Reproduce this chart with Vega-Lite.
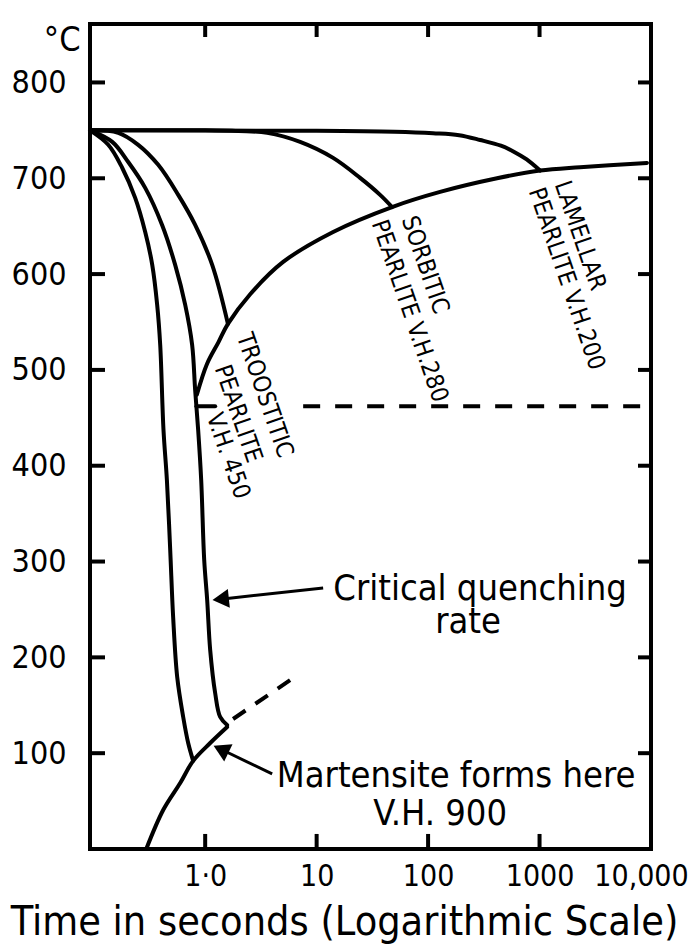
{
  "$schema": "https://vega.github.io/schema/vega-lite/v6.json",
  "width": 561,
  "height": 825,
  "autosize": {"type": "none"},
  "padding": {"left": 90, "top": 24, "right": 40, "bottom": 95},
  "background": "white",
  "config": {
    "font": "Liberation Sans Narrow, DejaVu Sans Condensed, DejaVu Sans",
    "view": {"stroke": "black", "strokeWidth": 4}
  },
  "datasets": {
    "curves": [
      {"c": "A", "i": 0, "t": 0.0926, "T": 750},
      {"c": "A", "i": 1, "t": 0.135, "T": 735},
      {"c": "A", "i": 2, "t": 0.18, "T": 711},
      {"c": "A", "i": 3, "t": 0.2355, "T": 679.5},
      {"c": "A", "i": 4, "t": 0.2897, "T": 644},
      {"c": "A", "i": 5, "t": 0.335, "T": 609.6},
      {"c": "A", "i": 6, "t": 0.371, "T": 567.8},
      {"c": "A", "i": 7, "t": 0.395, "T": 526},
      {"c": "A", "i": 8, "t": 0.4226, "T": 437.4},
      {"c": "A", "i": 9, "t": 0.4535, "T": 385},
      {"c": "A", "i": 10, "t": 0.4856, "T": 312},
      {"c": "A", "i": 11, "t": 0.516, "T": 242},
      {"c": "A", "i": 12, "t": 0.561, "T": 179.5},
      {"c": "A", "i": 13, "t": 0.635, "T": 137.8},
      {"c": "A", "i": 14, "t": 0.704, "T": 110.6},
      {"c": "A", "i": 15, "t": 0.78, "T": 92},
      {"c": "B", "i": 0, "t": 0.0926, "T": 750},
      {"c": "B", "i": 1, "t": 0.1466, "T": 738},
      {"c": "B", "i": 2, "t": 0.204, "T": 717},
      {"c": "B", "i": 3, "t": 0.2897, "T": 690},
      {"c": "B", "i": 4, "t": 0.4115, "T": 651},
      {"c": "B", "i": 5, "t": 0.538, "T": 609.6},
      {"c": "B", "i": 6, "t": 0.662, "T": 567.8},
      {"c": "B", "i": 7, "t": 0.764, "T": 526},
      {"c": "B", "i": 8, "t": 0.813, "T": 479},
      {"c": "B", "i": 9, "t": 0.865, "T": 437.4},
      {"c": "B", "i": 10, "t": 0.921, "T": 385},
      {"c": "B", "i": 11, "t": 0.98, "T": 301.7},
      {"c": "B", "i": 12, "t": 1.042, "T": 260},
      {"c": "B", "i": 13, "t": 1.109, "T": 207.7},
      {"c": "B", "i": 14, "t": 1.229, "T": 162.8},
      {"c": "B", "i": 15, "t": 1.363, "T": 137.8},
      {"c": "B", "i": 16, "t": 1.574, "T": 129.4},
      {"c": "C", "i": 0, "t": 0.0926, "T": 750},
      {"c": "C", "i": 1, "t": 0.166, "T": 747.4},
      {"c": "C", "i": 2, "t": 0.2507, "T": 734.9},
      {"c": "C", "i": 3, "t": 0.379, "T": 714},
      {"c": "C", "i": 4, "t": 0.573, "T": 682.7},
      {"c": "C", "i": 5, "t": 0.813, "T": 651.4},
      {"c": "C", "i": 6, "t": 1.156, "T": 609.6},
      {"c": "C", "i": 7, "t": 1.6, "T": 548},
      {"c": "D", "i": 0, "t": 0.0926, "T": 750},
      {"c": "D", "i": 1, "t": 1.0, "T": 750},
      {"c": "D", "i": 2, "t": 2.0, "T": 749.2},
      {"c": "D", "i": 3, "t": 3.6, "T": 747.4},
      {"c": "D", "i": 4, "t": 7.11, "T": 738},
      {"c": "D", "i": 5, "t": 14.06, "T": 721.3},
      {"c": "D", "i": 6, "t": 24.55, "T": 700.4},
      {"c": "D", "i": 7, "t": 37.1, "T": 682.7},
      {"c": "D", "i": 8, "t": 47.5, "T": 670},
      {"c": "E", "i": 0, "t": 0.0926, "T": 750},
      {"c": "E", "i": 1, "t": 10, "T": 749.5},
      {"c": "E", "i": 2, "t": 50, "T": 748.5},
      {"c": "E", "i": 3, "t": 111, "T": 747},
      {"c": "E", "i": 4, "t": 190, "T": 745},
      {"c": "E", "i": 5, "t": 293, "T": 740},
      {"c": "E", "i": 6, "t": 450, "T": 734},
      {"c": "E", "i": 7, "t": 582, "T": 728},
      {"c": "E", "i": 8, "t": 767, "T": 719.6},
      {"c": "E", "i": 9, "t": 1010, "T": 708},
      {"c": "F", "i": 0, "t": 0.842, "T": 474},
      {"c": "F", "i": 1, "t": 1.036, "T": 506},
      {"c": "F", "i": 2, "t": 1.317, "T": 529},
      {"c": "F", "i": 3, "t": 1.6, "T": 548},
      {"c": "F", "i": 4, "t": 2.533, "T": 579},
      {"c": "F", "i": 5, "t": 5.008, "T": 612.7},
      {"c": "F", "i": 6, "t": 14.06, "T": 644},
      {"c": "F", "i": 7, "t": 47.5, "T": 670},
      {"c": "F", "i": 8, "t": 128.1, "T": 685.8},
      {"c": "F", "i": 9, "t": 415.6, "T": 700},
      {"c": "F", "i": 10, "t": 1010, "T": 708},
      {"c": "F", "i": 11, "t": 2308, "T": 711.5},
      {"c": "F", "i": 12, "t": 9200, "T": 716},
      {"c": "G", "i": 0, "t": 0.296, "T": 0},
      {"c": "G", "i": 1, "t": 0.42, "T": 40.7},
      {"c": "G", "i": 2, "t": 0.597, "T": 68.9},
      {"c": "G", "i": 3, "t": 0.78, "T": 92},
      {"c": "G", "i": 4, "t": 1.109, "T": 110.6},
      {"c": "G", "i": 5, "t": 1.574, "T": 127.3},
      {"c": "J", "i": 0, "t": 0.834, "T": 462},
      {"c": "J", "i": 1, "t": 1.23, "T": 462}
    ],
    "msdash": [
      {"c": "H", "i": 0, "t": 1.78, "T": 135.7},
      {"c": "H", "i": 1, "t": 6.55, "T": 180.6}
    ],
    "hdash": [
      {"c": "I", "i": 0, "t": 7.57, "T": 462},
      {"c": "I", "i": 1, "t": 10000, "T": 462}
    ],
    "arrows": [
      {"c": "crit", "i": 0, "t": 11.44, "T": 272.4},
      {"c": "crit", "i": 1, "t": 1.377, "T": 260.7},
      {"c": "mart", "i": 0, "t": 3.99, "T": 78.3},
      {"c": "mart", "i": 1, "t": 1.386, "T": 104.1}
    ],
    "heads": [
      {"c": "crit", "t": 1.377, "T": 260.7},
      {"c": "mart", "t": 1.386, "T": 104.1}
    ],
    "notes": [
      {"label": "Critical quenching", "t": 292.7, "T": 260},
      {"label": "rate", "t": 228.4, "T": 225.5},
      {"label": "Martensite forms here", "t": 178.3, "T": 64.7},
      {"label": "V.H. 900", "t": 128.2, "T": 25}
    ],
    "phases": [
      {"label": "TROOSTITIC", "t": 2.192, "T": 537.6},
      {"label": "PEARLITE", "t": 1.392, "T": 504.2},
      {"label": "V.H. 450", "t": 1.18, "T": 454.1},
      {"label": "SORBITIC", "t": 66.2, "T": 659.7},
      {"label": "PEARLITE V.H.280", "t": 35.6, "T": 655.5},
      {"label": "LAMELLAR", "t": 1559, "T": 696.2},
      {"label": "PEARLITE V.H.200", "t": 911, "T": 689}
    ],
    "frameticks": [
      {"k": "L100", "i": 0, "t": 0.0926, "T": 100}, {"k": "L100", "i": 1, "t": 0.1262, "T": 100},
      {"k": "L200", "i": 0, "t": 0.0926, "T": 200}, {"k": "L200", "i": 1, "t": 0.1262, "T": 200},
      {"k": "L300", "i": 0, "t": 0.0926, "T": 300}, {"k": "L300", "i": 1, "t": 0.1262, "T": 300},
      {"k": "L400", "i": 0, "t": 0.0926, "T": 400}, {"k": "L400", "i": 1, "t": 0.1262, "T": 400},
      {"k": "L500", "i": 0, "t": 0.0926, "T": 500}, {"k": "L500", "i": 1, "t": 0.1262, "T": 500},
      {"k": "L600", "i": 0, "t": 0.0926, "T": 600}, {"k": "L600", "i": 1, "t": 0.1262, "T": 600},
      {"k": "L700", "i": 0, "t": 0.0926, "T": 700}, {"k": "L700", "i": 1, "t": 0.1262, "T": 700},
      {"k": "L800", "i": 0, "t": 0.0926, "T": 800}, {"k": "L800", "i": 1, "t": 0.1262, "T": 800},
      {"k": "R100", "i": 0, "t": 7645, "T": 100}, {"k": "R100", "i": 1, "t": 10000, "T": 100},
      {"k": "R200", "i": 0, "t": 7645, "T": 200}, {"k": "R200", "i": 1, "t": 10000, "T": 200},
      {"k": "R300", "i": 0, "t": 7645, "T": 300}, {"k": "R300", "i": 1, "t": 10000, "T": 300},
      {"k": "R400", "i": 0, "t": 7645, "T": 400}, {"k": "R400", "i": 1, "t": 10000, "T": 400},
      {"k": "R500", "i": 0, "t": 7645, "T": 500}, {"k": "R500", "i": 1, "t": 10000, "T": 500},
      {"k": "R600", "i": 0, "t": 7645, "T": 600}, {"k": "R600", "i": 1, "t": 10000, "T": 600},
      {"k": "R700", "i": 0, "t": 7645, "T": 700}, {"k": "R700", "i": 1, "t": 10000, "T": 700},
      {"k": "R800", "i": 0, "t": 7645, "T": 800}, {"k": "R800", "i": 1, "t": 10000, "T": 800},
      {"k": "B1", "i": 0, "t": 1, "T": 0}, {"k": "B1", "i": 1, "t": 1, "T": 15.7},
      {"k": "B10", "i": 0, "t": 10, "T": 0}, {"k": "B10", "i": 1, "t": 10, "T": 15.7},
      {"k": "B100", "i": 0, "t": 100, "T": 0}, {"k": "B100", "i": 1, "t": 100, "T": 15.7},
      {"k": "B1000", "i": 0, "t": 1000, "T": 0}, {"k": "B1000", "i": 1, "t": 1000, "T": 15.7},
      {"k": "T1", "i": 0, "t": 1, "T": 861}, {"k": "T1", "i": 1, "t": 1, "T": 847.4},
      {"k": "T10", "i": 0, "t": 10, "T": 861}, {"k": "T10", "i": 1, "t": 10, "T": 847.4},
      {"k": "T100", "i": 0, "t": 100, "T": 861}, {"k": "T100", "i": 1, "t": 100, "T": 847.4},
      {"k": "T1000", "i": 0, "t": 1000, "T": 861}, {"k": "T1000", "i": 1, "t": 1000, "T": 847.4}
    ]
  },
  "encoding": {
    "x": {"field": "t", "type": "quantitative", "scale": {"type": "log", "domain": [0.0926, 10000], "nice": false}, "axis": null},
    "y": {"field": "T", "type": "quantitative", "scale": {"domain": [0, 861], "nice": false, "zero": false}, "axis": null}
  },
  "resolve": {"axis": {"x": "independent", "y": "independent"}},
  "layer": [
    {
      "data": {"name": "curves"},
      "mark": {"type": "line", "color": "black", "strokeWidth": 4, "interpolate": "catmull-rom", "strokeCap": "round", "strokeJoin": "round"},
      "encoding": {
        "x": {
          "field": "t", "type": "quantitative",
          "scale": {"type": "log", "domain": [0.0926, 10000], "nice": false},
          "axis": {
            "orient": "bottom", "values": [1, 10, 100, 1000, 10000], "ticks": false,
            "labelExpr": "datum.value == 1 ? '1·0' : datum.value == 10000 ? '10,000' : format(datum.value, 'd')",
            "domain": false, "grid": false,
            "labelFontSize": 30, "labelColor": "black", "labelPadding": 12, "labelOverlap": false, "labelFlush": false, "labelBound": false,
            "labelOffset": {"condition": {"test": "datum.value == 10000", "value": -10}, "value": 0},
            "title": "Time in seconds (Logarithmic Scale)", "titleFontSize": 41, "titleFontWeight": "normal", "titleColor": "black",
            "titleX": 254, "titleY": 85, "titleAlign": "center", "titleBaseline": "alphabetic", "titleAnchor": "start"
          }
        },
        "y": {
          "field": "T", "type": "quantitative",
          "scale": {"domain": [0, 861], "nice": false, "zero": false},
          "axis": {
            "orient": "left", "values": [100, 200, 300, 400, 500, 600, 700, 800], "ticks": false,
            "domain": false, "grid": false,
            "labelFontSize": 32, "labelColor": "black", "labelPadding": 24, "labelOverlap": false, "labelBound": false,
            "title": "°C", "titleAngle": 0, "titleAlign": "right", "titleBaseline": "alphabetic", "titleX": -10, "titleY": 26,
            "titleFontSize": 34, "titleFontWeight": "normal", "titleColor": "black"
          }
        },
        "detail": {"field": "c"},
        "order": {"field": "i", "type": "quantitative"}
      }
    },
    {
      "data": {"name": "frameticks"},
      "mark": {"type": "line", "color": "black", "strokeWidth": 4, "strokeCap": "butt"},
      "encoding": {"detail": {"field": "k"}, "order": {"field": "i", "type": "quantitative"}}
    },
    {
      "data": {"name": "hdash"},
      "mark": {"type": "line", "color": "black", "strokeWidth": 4, "strokeDash": [17, 15]},
      "encoding": {"order": {"field": "i", "type": "quantitative"}}
    },
    {
      "data": {"name": "msdash"},
      "mark": {"type": "line", "color": "black", "strokeWidth": 4, "strokeDash": [15, 12]},
      "encoding": {"order": {"field": "i", "type": "quantitative"}}
    },
    {
      "data": {"name": "arrows"},
      "mark": {"type": "line", "color": "black", "strokeWidth": 3},
      "encoding": {"detail": {"field": "c"}, "order": {"field": "i", "type": "quantitative"}}
    },
    {
      "data": {"name": "heads"},
      "transform": [{"filter": "datum.c == 'crit'"}],
      "mark": {"type": "point", "shape": "triangle-left", "filled": true, "size": 360, "color": "black", "opacity": 1, "angle": -6}
    },
    {
      "data": {"name": "heads"},
      "transform": [{"filter": "datum.c == 'mart'"}],
      "mark": {"type": "point", "shape": "triangle-left", "filled": true, "size": 360, "color": "black", "opacity": 1, "angle": 26}
    },
    {
      "data": {"name": "notes"},
      "mark": {"type": "text", "fontSize": 36, "align": "center", "baseline": "alphabetic", "color": "black"},
      "encoding": {"text": {"field": "label"}}
    },
    {
      "data": {"name": "phases"},
      "mark": {"type": "text", "fontSize": 24, "align": "left", "baseline": "middle", "angle": 71, "color": "black"},
      "encoding": {"text": {"field": "label"}}
    }
  ]
}
